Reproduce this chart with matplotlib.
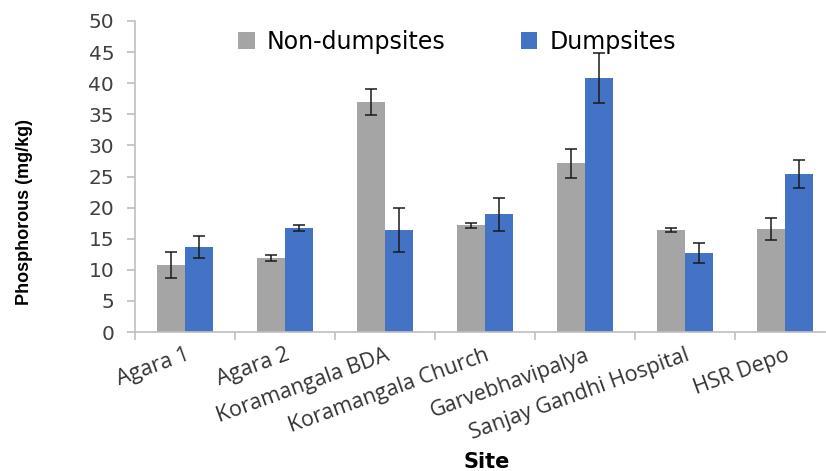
import numpy as np
import matplotlib
matplotlib.use('Agg')
import matplotlib.pyplot as plt

# data
sites = ['Agara 1', 'Agara 2', 'Koramangala BDA', 'Koramangala Church',
         'Garvebhavipalya', 'Sanjay Gandhi Hospital', 'HSR Depo']
non_dump = [10.8, 11.9, 37.0, 17.2, 27.1, 16.4, 16.5]
non_dump_err = [2.05, 0.5, 2.1, 0.4, 2.4, 0.35, 1.75]
dump = [13.7, 16.7, 16.4, 18.9, 40.8, 12.7, 25.4]
dump_err = [1.8, 0.5, 3.6, 2.7, 4.05, 1.55, 2.25]

fig = plt.figure(figsize=(8.26, 4.71), dpi=100)
ax = fig.add_axes([135/826, 1-332/471, 700/826, 311/471])

x = np.arange(len(sites))
w = 0.28
ax.bar(x - w/2, non_dump, w, color='#A5A5A5', label='Non-dumpsites',
       yerr=non_dump_err, capsize=4.5, error_kw=dict(ecolor='#1a1a1a', elinewidth=1.1, capthick=1.1))
ax.bar(x + w/2, dump, w, color='#4472C4', label='Dumpsites',
       yerr=dump_err, capsize=4.5, error_kw=dict(ecolor='#1a1a1a', elinewidth=1.1, capthick=1.1))

ax.set_xlim(-0.5, len(sites) - 0.5)
ax.set_ylim(0, 50)
ax.set_yticks(np.arange(0, 51, 5))
ax.tick_params(axis='y', labelsize=14.5, colors='#BFBFBF', labelcolor='#404040',
               length=6, width=1.2, pad=9)

ax.set_xticks(x)
ax.set_xticklabels(sites, rotation=20, ha='right', rotation_mode='anchor',
                   fontsize=15.5, color='#333333', family=['Open Sans', 'DejaVu Sans'])
ax.tick_params(axis='x', which='major', length=0, pad=9)
ax.set_xticks(np.arange(-0.5, len(sites), 1), minor=True)
ax.tick_params(axis='x', which='minor', length=6, width=1.2, color='#BFBFBF')

for s in ['top', 'right']:
    ax.spines[s].set_visible(False)
for s in ['left', 'bottom']:
    ax.spines[s].set_color('#BFBFBF')
    ax.spines[s].set_linewidth(1.2)

fig.text(0.030, 1-212/471, 'Phosphorous (mg/kg)', rotation=90, ha='center', va='center',
         fontsize=13, fontweight='bold', family=['Liberation Sans', 'DejaVu Sans'])
fig.text(487/826, 1-462/471, 'Site', ha='center', va='center',
         fontsize=15, fontweight='bold', family=['DejaVu Sans'])

ax.legend(loc='center', bbox_to_anchor=(457/826, 1-42/471), bbox_transform=fig.transFigure,
          ncol=2, frameon=False, fontsize=17, handlelength=0.7, handleheight=0.7,
          columnspacing=3.2, handletextpad=0.5)

fig.savefig('out.png', dpi=100)
